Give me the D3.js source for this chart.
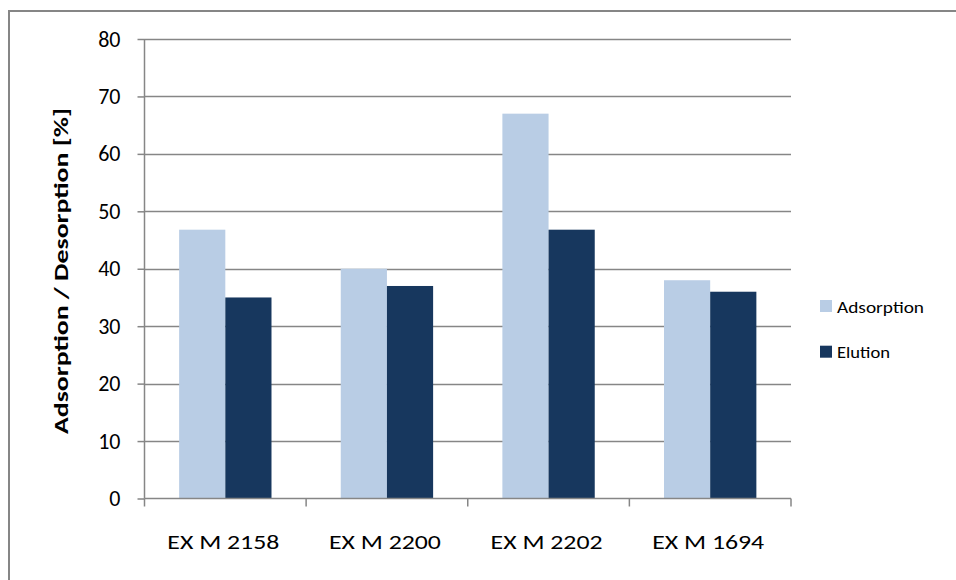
<!DOCTYPE html>
<html><head><meta charset="utf-8">
<script src="https://cdn.jsdelivr.net/npm/d3@7"></script>
<style>body{margin:0;background:#fff}svg{display:block}</style>
</head><body><svg id="c" width="956" height="580"></svg>
<script>
const categories = ["EX M 2158", "EX M 2200", "EX M 2202", "EX M 1694"];
const seriesNames = ["Adsorption", "Elution"];
const adsorption = [46.8, 40, 67, 38];
const elution = [35, 37, 46.8, 36];
const yTicks = [0, 10, 20, 30, 40, 50, 60, 70, 80];
const colors = ["#B9CDE5", "#17375E"];
const yTitle = "Adsorption / Desorption [%]";

(function () {
const svg = d3.select("#c");
const font = "Carlito, Lato, 'Open Sans', sans-serif";
const pLeft = 144.5, pRight = 791, pTop = 39, pBottom = 498.5;

// outer frame (only top and left edges visible)
svg.append("path").attr("d", "M9,580V11H956").attr("fill", "none")
  .attr("stroke", "#868686").attr("stroke-width", 2);

const x = d3.scaleBand().domain(categories).range([pLeft, pRight]).paddingInner(0).paddingOuter(0);
const y = d3.scaleLinear().domain([0, 80]).range([pBottom, pTop]);
const bw = x.bandwidth() / 3.5;
const gap = (x.bandwidth() - 2 * bw) / 2;

// gridlines
svg.append("g").selectAll("line").data(yTicks.filter(d => d > 0)).join("line")
  .attr("x1", pLeft).attr("x2", pRight)
  .attr("y1", d => Math.round(y(d)) + 0.5).attr("y2", d => Math.round(y(d)) + 0.5)
  .attr("stroke", "#868686").attr("stroke-width", 1.5);

// bars
const data = categories.map((c, i) => [adsorption[i], elution[i]]);
const g = svg.append("g");
categories.forEach((c, i) => {
  data[i].forEach((v, s) => {
    g.append("rect")
      .attr("x", x(c) + gap + s * bw)
      .attr("y", y(v))
      .attr("width", bw)
      .attr("height", y(0) - y(v))
      .attr("fill", colors[s]);
  });
});

// y axis
const yAxis = d3.axisLeft(y).tickValues(yTicks).tickSize(7).tickPadding(17);
const ya = svg.append("g").attr("transform", `translate(${pLeft},0)`).call(yAxis);
ya.select(".domain").attr("stroke", "#868686").attr("stroke-width", 1.5).attr("d", `M0,${pTop}V${pBottom}`);
ya.selectAll(".tick line").attr("stroke", "#868686").attr("stroke-width", 1.5);
ya.selectAll(".tick text").attr("font-family", font).attr("font-size", 22).attr("fill", "#000");

// x axis
const xAxis = d3.axisBottom(x).tickSize(0).tickPadding(36);
const xa = svg.append("g").attr("transform", `translate(0,${pBottom})`).call(xAxis);
xa.select(".domain").attr("stroke", "#868686").attr("stroke-width", 1.5).attr("d", `M${pLeft},0H${pRight}`);
xa.selectAll(".tick text").attr("font-family", font).attr("font-size", 21).attr("fill", "#000")
  .attr("textLength", 112).attr("lengthAdjust", "spacingAndGlyphs")
  .attr("x", -2);
svg.append("g").selectAll("line").data(d3.range(categories.length + 1)).join("line")
  .attr("x1", i => pLeft + i * x.bandwidth()).attr("x2", i => pLeft + i * x.bandwidth())
  .attr("y1", pBottom).attr("y2", pBottom + 8)
  .attr("stroke", "#868686").attr("stroke-width", 1.5);

// y title
svg.append("text").attr("transform", `translate(68,271) rotate(-90)`)
  .attr("text-anchor", "middle").attr("font-family", font).attr("font-weight", "bold")
  .attr("font-size", 21).attr("textLength", 326).attr("lengthAdjust", "spacingAndGlyphs")
  .text(yTitle);

// legend
const lg = svg.append("g");
const legendLen = [87, 53];
seriesNames.forEach((n, i) => {
  const yy = 300 + i * 45.7;
  lg.append("rect").attr("x", 820).attr("y", yy).attr("width", 12).attr("height", 12).attr("fill", colors[i]);
  lg.append("text").attr("x", 837).attr("y", yy + 12.5).attr("font-family", font).attr("font-size", 17)
    .attr("textLength", legendLen[i]).attr("lengthAdjust", "spacingAndGlyphs").text(n);
});
})();
</script></body></html>
